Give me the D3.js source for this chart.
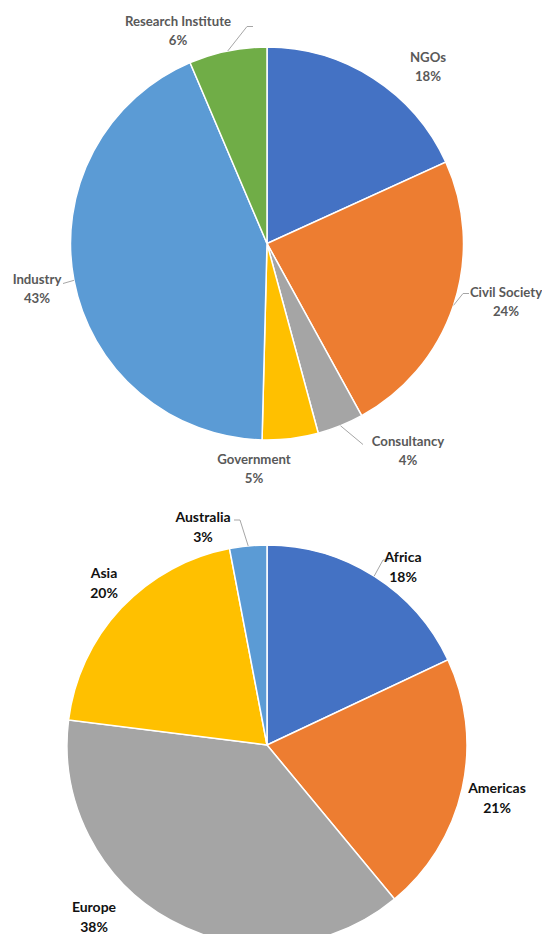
<!DOCTYPE html>
<html><head><meta charset="utf-8">
<script src="https://cdn.jsdelivr.net/npm/d3@7"></script>
<style>body{margin:0;background:#fff}svg{display:block}</style>
</head><body>
<script>
// Data
const sectorCategories = ["NGOs","Civil Society","Consultancy","Government","Industry","Research Institute"];
const sectorValues = [18.2,23.8,3.8,4.6,43.2,6.4];
const sectorLabels = ["18%","24%","4%","5%","43%","6%"];
const regionCategories = ["Africa","Americas","Europe","Asia","Australia"];
const regionValues = [18,21,38,20,3];
const regionLabels = ["18%","21%","38%","20%","3%"];

// Styles / layout
const sectorColors = ["#4472C4","#ED7D31","#A5A5A5","#FFC000","#5B9BD5","#70AD47"];
const regionColors = ["#4472C4","#ED7D31","#A5A5A5","#FFC000","#5B9BD5"];
// label anchor positions (relative to pie center), leader line end (relative) or null
const sectorLabelLayout = [
  {x:161,y:-177,line:null},
  {x:239,y:58,line:[196,50]},
  {x:141,y:207,line:[96,201]},
  {x:-13,y:225,line:null},
  {x:-230,y:45,line:[-204,40]},
  {x:-89,y:-213,line:[-20,-217]}
];
const regionLabelLayout = [
  {x:136,y:-178,line:[116,-185]},
  {x:230,y:53,line:null},
  {x:-173,y:172,line:null},
  {x:-163,y:-162,line:null},
  {x:-64,y:-218,line:[-27,-225]}
];

const W=542,H=934;
const svg=d3.select("body").append("svg").attr("width",W).attr("height",H);

function drawPie(cfg){
  const g=svg.append("g").attr("transform",`translate(${cfg.cx},${cfg.cy})`);
  const pie=d3.pie().sort(null).value(d=>d)(cfg.values);
  const arc=d3.arc().innerRadius(0).outerRadius(cfg.r);
  g.selectAll("path.slice").data(pie).join("path")
    .attr("class","slice")
    .attr("d",arc)
    .attr("fill",(d,i)=>cfg.colors[i])
    .attr("stroke","#fff").attr("stroke-width",1.5);
  pie.forEach((d,i)=>{
    const L=cfg.layout[i];
    if(!L.line) return;
    const a=(d.startAngle+d.endAngle)/2;
    const x0=Math.sin(a)*cfg.r, y0=-Math.cos(a)*cfg.r;
    const vert=Math.abs(L.line[1]-y0)>Math.abs(L.line[0]-x0);
    const ext=vert?(L.line[0]>x0?6:-6):0;
    g.append("path")
      .attr("d",d3.line()([[x0,y0],L.line,[L.line[0]+ext,L.line[1]]]))
      .attr("fill","none").attr("stroke","#a6a6a6").attr("stroke-width",1);
  });
  pie.forEach((d,i)=>{
    const L=cfg.layout[i];
    const t=g.append("text").attr("text-anchor","middle")
      .attr("font-family","Lato, 'Open Sans', sans-serif")
      .attr("font-size",cfg.fontSize).attr("font-weight",cfg.weight)
      .attr("fill",cfg.textColor);
    t.append("tspan").attr("x",L.x).attr("y",L.y-cfg.lh/2+cfg.fontSize*0.35).text(cfg.cats[i]);
    t.append("tspan").attr("x",L.x).attr("y",L.y+cfg.lh/2+cfg.fontSize*0.35).text(cfg.labels[i]);
  });
}

drawPie({cx:267,cy:243.5,r:196.5,values:sectorValues,cats:sectorCategories,labels:sectorLabels,colors:sectorColors,
  layout:sectorLabelLayout,fontSize:13.2,weight:700,textColor:"#595959",lh:19});
drawPie({cx:267,cy:745,r:200,values:regionValues,cats:regionCategories,labels:regionLabels,colors:regionColors,
  layout:regionLabelLayout,fontSize:14,weight:700,textColor:"#111",lh:20});
</script>
</body></html>
